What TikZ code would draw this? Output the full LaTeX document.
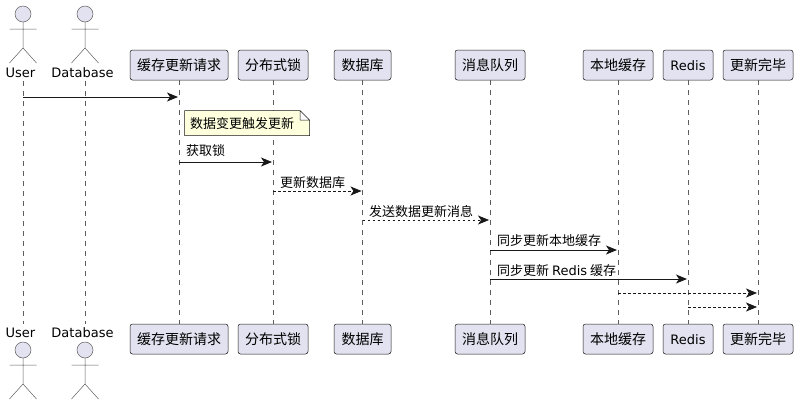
\documentclass[tikz,border=0pt]{standalone}
\usepackage{fontspec}
\setmainfont{DejaVu Sans}
\newfontfamily\cjk{Noto Sans CJK SC}
\usetikzlibrary{arrows.meta,positioning}
\definecolor{partfill}{HTML}{E2E2F0}
\definecolor{partline}{HTML}{181818}
\definecolor{notefill}{HTML}{FEFFDD}
\tikzset{
  part/.style={draw=partline,rounded corners=2.5pt,fill=partfill,minimum height=30pt,inner sep=0pt,line width=0.5pt,text height=13pt,text depth=1.5pt,font=\cjk\fontsize{14}{16}\selectfont},
  actname/.style={inner sep=0pt,font=\fontsize{13}{15}\selectfont},
  life/.style={draw=partline!70,line width=0.5pt,dash pattern=on 5pt off 5pt},
  arr/.style={-{Stealth[length=11pt,width=9pt,inset=3pt]},line width=0.9pt,color=partline,shorten >=1pt},
  darr/.style={arr,line width=0.7pt,dash pattern=on 2.5pt off 2.5pt},
  lbl/.style={inner sep=0pt,anchor=west,font=\cjk\fontsize{13}{15}\selectfont},
  actorman/.pic={
    \draw[draw=partline!70,fill=partfill,line width=0.5pt] (0,0) circle (8);
    \draw[draw=partline!70,line width=0.5pt] (0,8)--(0,34) (-13.5,15)--(13.5,15) (-13.5,49)--(0,34)--(13.5,49);
  },
}
\begin{document}
\begin{tikzpicture}[x=1pt,y=-1pt]
 \useasboundingbox (0,0) rectangle (798,405);
 % top row
 \pic at (23,14) {actorman};
 \pic at (85,14) {actorman};
 \node[actname] (usertxt) at (20.5,73) {User};
 \node[actname] (dbusertxt) at (82.5,73) {Database};
 \coordinate (user) at (23,81);
 \coordinate (dbuser) at (85,81);
 \node[part,minimum width=98pt] (req) at (179,65) {缓存更新请求};
 \node[part,minimum width=70pt] (lock) at (273,65) {分布式锁};
 \node[part,minimum width=57pt] (db) at (362.5,65) {数据库};
 \node[part,minimum width=70pt] (mq) at (490,65) {消息队列};
 \node[part,minimum width=70pt] (local) at (618,65) {本地缓存};
 \node[part,minimum width=50pt,font=\fontsize{13}{15}\selectfont] (redis) at (688,65) {Redis};
 \node[part,minimum width=70pt] (done) at (758,65) {更新完毕};
 % bottom row
 \pic at (23,350) {actorman};
 \pic at (85,350) {actorman};
 \node[actname] (userbtxt) at (20.5,333) {User};
 \node[actname] (dbuserbtxt) at (82.5,333) {Database};
 \coordinate (userb) at (23,324);
 \coordinate (dbuserb) at (85,324);
 \node[part,minimum width=98pt] (reqb) at (179,339) {缓存更新请求};
 \node[part,minimum width=70pt] (lockb) at (273,339) {分布式锁};
 \node[part,minimum width=57pt] (dbb) at (362.5,339) {数据库};
 \node[part,minimum width=70pt] (mqb) at (490,339) {消息队列};
 \node[part,minimum width=70pt] (localb) at (618,339) {本地缓存};
 \node[part,minimum width=50pt,font=\fontsize{13}{15}\selectfont] (redisb) at (688,339) {Redis};
 \node[part,minimum width=70pt] (doneb) at (758,339) {更新完毕};
 % lifelines
 \foreach \a/\b in {user/userb,dbuser/dbuserb,req/reqb,lock/lockb,db/dbb,mq/mqb,local/localb,redis/redisb,done/doneb}
  \draw[life] (\a)--(\b);
 % note
 \draw[draw=partline,fill=notefill,line width=0.5pt] (184.5,110.5)--(300,110.5)--(309.5,120)--(309.5,135.5)--(184.5,135.5)--cycle (300,110.5)--(300,120)--(309.5,120);
 \node[lbl] (note) at (190,124) {数据变更触发更新};
 % messages
 \draw[arr] (user |- 0,97)--(req |- 0,97);
 \draw[arr] (req |- 0,162)--(lock |- 0,162);
 \node[lbl] (m2) at (186,151) {获取锁};
 \draw[darr] (lock |- 0,191)--(db |- 0,191);
 \node[lbl] (m3) at (280,183) {更新数据库};
 \draw[darr] (db |- 0,220)--(mq |- 0,220);
 \node[lbl] (m4) at (369,212) {发送数据更新消息};
 \draw[arr] (mq |- 0,250)--(local |- 0,250);
 \node[lbl] (m5) at (497,241) {同步更新本地缓存};
 \draw[arr] (mq |- 0,279)--(redis |- 0,279);
 \node[lbl] (m6) at (497,271) {同步更新 {\fontspec{DejaVu Sans}Redis} 缓存};
 \draw[darr] (local |- 0,293)--(done |- 0,293);
 \draw[darr] (redis |- 0,307)--(done |- 0,307);
\end{tikzpicture}
\end{document}
